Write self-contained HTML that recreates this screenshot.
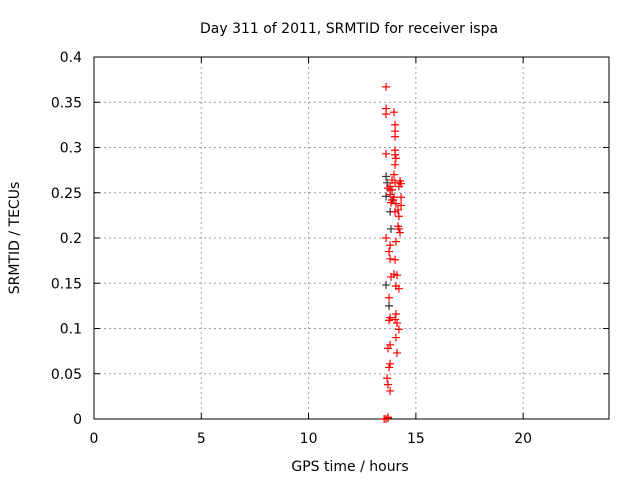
<!DOCTYPE html>
<html><head><meta charset="utf-8"><style>
body{margin:0;background:#fff;}
svg text{font-family:"DejaVu Sans","Liberation Sans",sans-serif;font-size:14px;fill:#000;}
</style></head><body>
<svg id="chart" width="640" height="480" xmlns="http://www.w3.org/2000/svg"></svg>
<script>
const xTicks=[0,5,10,15,20];
const yTicks=[0,0.05,0.1,0.15,0.2,0.25,0.3,0.35,0.4];
const yTickLabels=["0","0.05","0.1","0.15","0.2","0.25","0.3","0.35","0.4"];
const redHours=[13.61,13.61,13.61,13.98,14.03,14.03,14.03,13.61,14.03,14.03,14.07,14.03,13.98,13.89,14.03,13.80,14.26,14.31,14.21,13.70,13.89,13.80,13.98,13.94,14.31,13.84,14.07,14.17,14.31,14.03,14.21,14.17,14.21,14.26,13.61,13.80,14.07,13.75,14.03,13.80,13.98,13.84,14.12,14.07,14.21,13.75,13.75,14.03,13.80,14.07,14.12,14.21,14.07,13.80,13.70,14.12,13.80,13.75,13.66,13.70,13.80,13.70,13.52,13.61];
const redValues=[0.367,0.343,0.337,0.339,0.325,0.318,0.312,0.293,0.297,0.292,0.288,0.281,0.270,0.264,0.261,0.257,0.263,0.260,0.257,0.255,0.253,0.248,0.245,0.242,0.245,0.239,0.238,0.231,0.236,0.229,0.224,0.213,0.210,0.206,0.200,0.192,0.196,0.185,0.176,0.177,0.160,0.157,0.159,0.147,0.144,0.134,0.109,0.110,0.112,0.116,0.106,0.099,0.090,0.082,0.078,0.073,0.061,0.057,0.045,0.038,0.031,0.002,0.0,0.0];
const blackHours=[13.61,13.66,13.80,13.61,13.89,13.80,13.84,13.61,13.75,13.70];
const blackValues=[0.268,0.261,0.253,0.246,0.242,0.229,0.210,0.148,0.125,0.001];

const L=94,R=609,T=57,B=419;
const xs=h=>L+h/24*(R-L);
const ys=v=>B-v/0.4*(B-T);
const svg=document.getElementById('chart');
const NS='http://www.w3.org/2000/svg';
function mk(tag,attrs,parent){const e=document.createElementNS(NS,tag);for(const k in attrs)e.setAttribute(k,attrs[k]);(parent||svg).appendChild(e);return e;}

const grid=mk('g',{});


xTicks.forEach((t,i)=>{
  const x=xs(t);
  if(t>0){const g=mk('line',{x1:x,x2:x,y1:T,y2:B,stroke:'#a0a0a0','stroke-dasharray':'2,3'},grid);
  
  }
  mk('line',{x1:x,x2:x,y1:B,y2:B-6,stroke:'#000'});
  mk('line',{x1:x,x2:x,y1:T,y2:T+6,stroke:'#000'});
  const tx=mk('text',{x:x,y:B+24,'text-anchor':'middle'});
  tx.textContent=String(t);
  
  
});
yTicks.forEach((t,i)=>{
  const y=ys(t);
  if(t>0&&t<0.4){const g=mk('line',{x1:L,x2:R,y1:y,y2:y,stroke:'#a0a0a0','stroke-dasharray':'2,3'},grid);
  
  }
  mk('line',{x1:L,x2:L+6,y1:y,y2:y,stroke:'#000'});
  mk('line',{x1:R,x2:R-6,y1:y,y2:y,stroke:'#000'});
  const tx=mk('text',{x:L-12,y:y+5,'text-anchor':'end'});
  tx.textContent=yTickLabels[i];
  
  
});
const frame=mk('rect',{x:L,y:T,width:R-L,height:B-T,fill:'none',stroke:'#000'});



function plus(h,v,color,name){
  const x=xs(h),y=ys(v);
  const p=mk('path',{d:`M${x-4},${y}H${x+4}M${x},${y-4}V${y+4}`,stroke:color,'stroke-width':1.2,fill:'none'});
  
  
}
blackHours.forEach((h,i)=>plus(h,blackValues[i],'#333','black-point'));
redHours.forEach((h,i)=>plus(h,redValues[i],'#f00','red-point'));

const title=mk('text',{x:349,y:33,'text-anchor':'middle'});
title.textContent='Day 311 of 2011, SRMTID for receiver ispa';


const xt=mk('text',{x:350,y:471,'text-anchor':'middle'});
xt.textContent='GPS time / hours';


const yt=mk('text',{x:0,y:0,'text-anchor':'middle',transform:'translate(19,238) rotate(-90)'});
yt.textContent='SRMTID / TECUs';


</script>
</body></html>
